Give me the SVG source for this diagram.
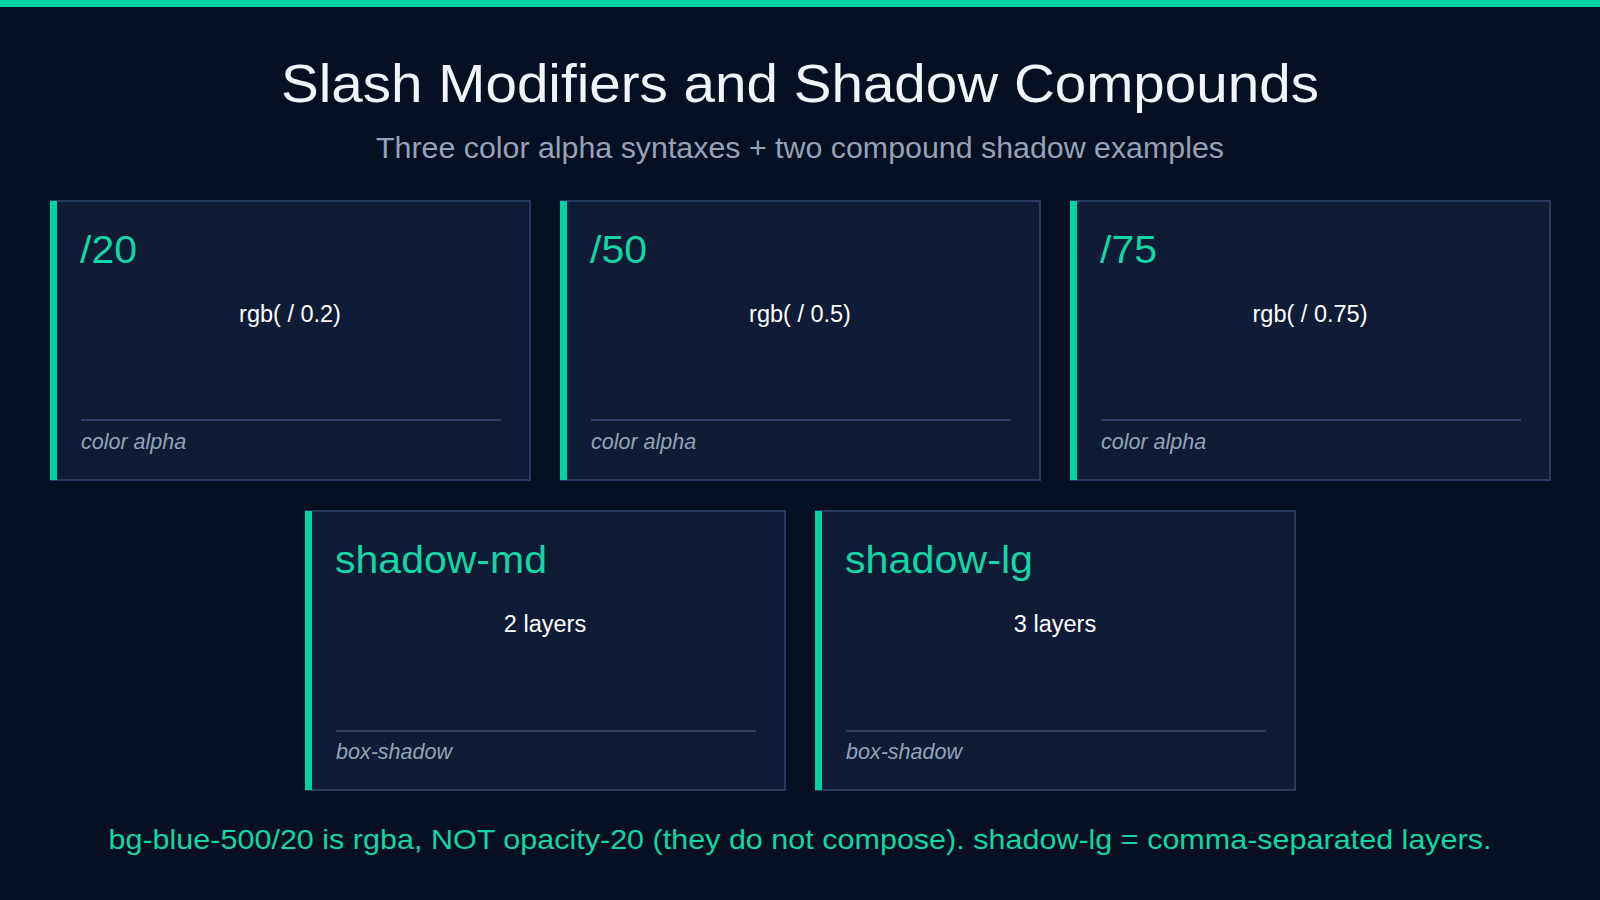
<svg xmlns="http://www.w3.org/2000/svg" width="1600" height="900" viewBox="0 0 1600 900">
<style>
text{font-family:"Liberation Sans",Arial,sans-serif}
.card{fill:#101b37;stroke:#283a60;stroke-width:2}
.acc{fill:#00d4a4}
.lbl{fill:#12d6a6;font-size:38px}
.val{fill:#ffffff;font-size:23.5px;text-anchor:middle}
.div{stroke:#2c3f66;stroke-width:2}
.cap{fill:#94a3b8;font-size:21.5px;font-style:italic}
</style>
<rect width="1600" height="900" fill="#070f22"/>
<rect width="1600" height="7" fill="#00d4a4"/>
<text x="800" y="102" text-anchor="middle" font-size="54" fill="#f1f5f9" textLength="1038" lengthAdjust="spacingAndGlyphs">Slash Modifiers and Shadow Compounds</text>
<text x="800" y="158" text-anchor="middle" font-size="29" fill="#94a3b8" textLength="848" lengthAdjust="spacingAndGlyphs">Three color alpha syntaxes + two compound shadow examples</text>
<g id="n1"><rect class="card" x="51" y="201" width="479" height="279"/><rect class="acc" x="50" y="201" width="7" height="279"/><text class="lbl" x="80" y="263" textLength="57" lengthAdjust="spacingAndGlyphs">/20</text><text class="val" x="290" y="322">rgb( / 0.2)</text><line class="div" x1="81" y1="420" x2="501" y2="420"/><text class="cap" x="81" y="449">color alpha</text></g>
<g id="n2"><rect class="card" x="561" y="201" width="479" height="279"/><rect class="acc" x="560" y="201" width="7" height="279"/><text class="lbl" x="590" y="263" textLength="57" lengthAdjust="spacingAndGlyphs">/50</text><text class="val" x="800" y="322">rgb( / 0.5)</text><line class="div" x1="591" y1="420" x2="1011" y2="420"/><text class="cap" x="591" y="449">color alpha</text></g>
<g id="n3"><rect class="card" x="1071" y="201" width="479" height="279"/><rect class="acc" x="1070" y="201" width="7" height="279"/><text class="lbl" x="1100" y="263" textLength="57" lengthAdjust="spacingAndGlyphs">/75</text><text class="val" x="1310" y="322">rgb( / 0.75)</text><line class="div" x1="1101" y1="420" x2="1521" y2="420"/><text class="cap" x="1101" y="449">color alpha</text></g>
<g id="n4"><rect class="card" x="306" y="511" width="479" height="279"/><rect class="acc" x="305" y="511" width="7" height="279"/><text class="lbl" x="335" y="573" textLength="212" lengthAdjust="spacingAndGlyphs">shadow-md</text><text class="val" x="545" y="632">2 layers</text><line class="div" x1="336" y1="731" x2="756" y2="731"/><text class="cap" x="336" y="759">box-shadow</text></g>
<g id="n5"><rect class="card" x="816" y="511" width="479" height="279"/><rect class="acc" x="815" y="511" width="7" height="279"/><text class="lbl" x="845" y="573" textLength="188" lengthAdjust="spacingAndGlyphs">shadow-lg</text><text class="val" x="1055" y="632">3 layers</text><line class="div" x1="846" y1="731" x2="1266" y2="731"/><text class="cap" x="846" y="759">box-shadow</text></g>
<g id="connectors"></g>
<text x="800" y="849" text-anchor="middle" font-size="28" fill="#12d6a6" textLength="1383" lengthAdjust="spacingAndGlyphs">bg-blue-500/20 is rgba, NOT opacity-20 (they do not compose). shadow-lg = comma-separated layers.</text>
</svg>
